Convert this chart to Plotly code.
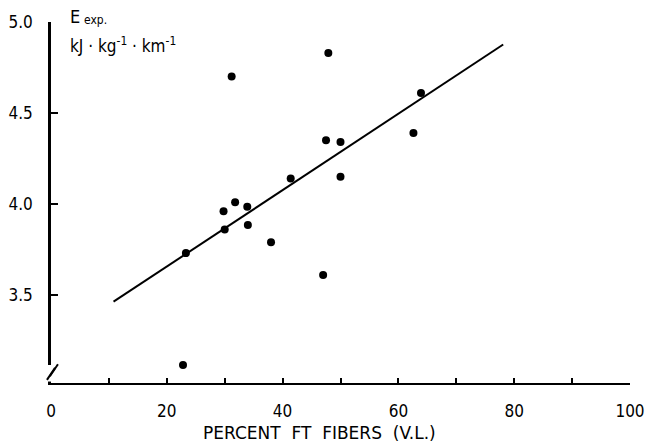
import plotly.graph_objects as go

# Percent fast-twitch fibres (vastus lateralis) and energy expenditure
ft_percent = [31.2, 47.9, 47.5, 50.0, 41.4, 50.0, 29.8, 31.8, 33.9, 30.0,
              34.0, 38.0, 47.0, 23.3, 63.9, 62.6, 22.8]
energy_exp = [4.70, 4.83, 4.35, 4.34, 4.14, 4.15, 3.96, 4.01, 3.985, 3.86,
              3.885, 3.79, 3.61, 3.73, 4.61, 4.39, 3.115]

# Regression line
fit_slope = 0.0210
fit_intercept = 3.236
fit_x = [10.8, 78.1]

x_tickvals = [0, 10, 20, 30, 40, 50, 60, 70, 80, 90, 100]
x_ticktext = ["0", "", "20", "", "40", "", "60", "", "80", "", "100"]
y_tickvals = [3.5, 4.0, 4.5, 5.0]
y_ticktext = ["3.5", "4.0", "4.5", "5.0"]

Y_MIN, Y_MAX = 3.016, 5.0
FONT = "DejaVu Sans Condensed, DejaVu Sans"
TITLE_FONT = "DejaVu Sans"
INK = "black"


def ypaper(v):
    return (v - Y_MIN) / (Y_MAX - Y_MIN)


fig = go.Figure()

fig.add_trace(go.Scatter(
    x=fit_x,
    y=[fit_intercept + fit_slope * v for v in fit_x],
    mode="lines",
    line=dict(color=INK, width=2),
    hoverinfo="skip",
    showlegend=False,
))

fig.add_trace(go.Scatter(
    x=ft_percent,
    y=energy_exp,
    mode="markers",
    marker=dict(color=INK, size=8),
    showlegend=False,
))

# gap in the y axis line with the break marks
fig.add_shape(type="rect", xref="paper", yref="paper", layer="above",
              x0=-0.01, x1=0.01, y0=0.004, y1=ypaper(3.115),
              line=dict(width=0), fillcolor="white")
for dx, dy in [(0.0, 0.0), (0.005, 0.02)]:
    fig.add_shape(type="line", xref="paper", yref="paper", layer="above",
                  x0=-0.007 + dx, x1=0.007 + dx,
                  y0=ypaper(3.033 + dy), y1=ypaper(3.099 + dy),
                  line=dict(color=INK, width=2))

fig.add_annotation(x=0.029, y=ypaper(5.03), xref="paper", yref="paper",
                   xanchor="left", yanchor="middle",
                   text="E", showarrow=False,
                   font=dict(family=FONT, size=18, color=INK))
fig.add_annotation(x=0.053, y=ypaper(5.01), xref="paper", yref="paper",
                   xanchor="left", yanchor="middle",
                   text="exp.", showarrow=False,
                   font=dict(family=FONT, size=12, color=INK))
fig.add_annotation(x=0.029, y=ypaper(4.874), xref="paper", yref="paper",
                   xanchor="left", yanchor="middle",
                   text="kJ · kg<sup>-1</sup> · km<sup>-1</sup>", showarrow=False,
                   font=dict(family=FONT, size=17, color=INK))
fig.add_annotation(x=0.463, y=-0.138, xref="paper", yref="paper",
                   xanchor="center", yanchor="middle",
                   text="PERCENT  FT  FIBERS  (V.L.)", showarrow=False,
                   font=dict(family=TITLE_FONT, size=17, color=INK))

fig.update_xaxes(
    range=[0, 100], tickvals=x_tickvals, ticktext=x_ticktext,
    ticks="inside", ticklen=5, tickwidth=1.5, tickcolor=INK,
    showline=True, linecolor=INK, linewidth=2,
    showgrid=False, zeroline=False, ticklabelstandoff=12, automargin=False,
    tickfont=dict(family=FONT, size=17, color=INK),
)
fig.update_yaxes(
    range=[Y_MIN, Y_MAX], tickvals=y_tickvals, ticktext=y_ticktext,
    ticks="inside", ticklen=7, tickwidth=2, tickcolor=INK,
    showline=True, linecolor=INK, linewidth=2.5,
    showgrid=False, zeroline=False, ticklabelstandoff=12, automargin=False,
    tickfont=dict(family=FONT, size=17, color=INK),
)

fig.update_layout(
    width=646, height=444,
    margin=dict(l=51, r=16, t=22, b=61),
    paper_bgcolor="white", plot_bgcolor="white",
    font=dict(family=FONT, color=INK),
)

fig.write_html("out.html")
